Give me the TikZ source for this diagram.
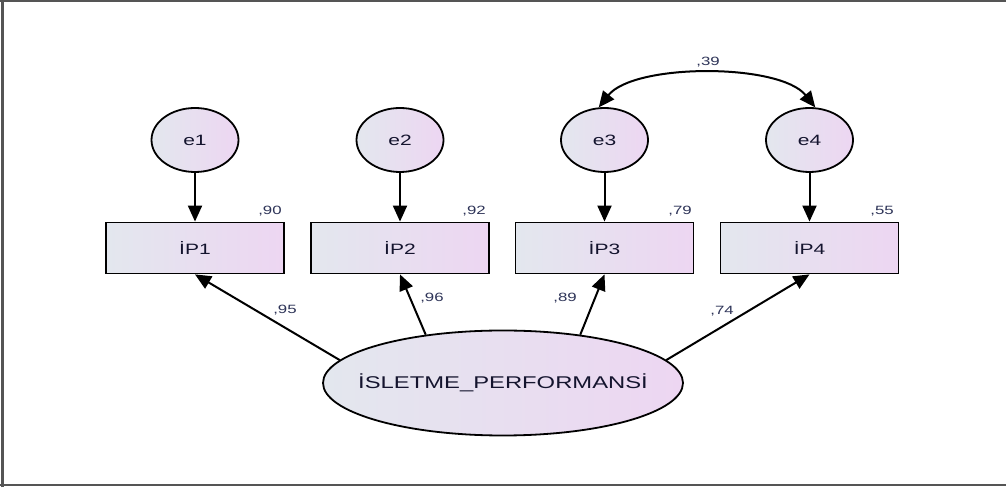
\documentclass[tikz,border=0pt]{standalone}
\usepackage{fontspec}
\usetikzlibrary{arrows.meta,shapes.geometric}
\newfontfamily\nodefont[FakeStretch=1.4]{Liberation Sans}
\definecolor{lbl}{HTML}{E3E7EE}
\definecolor{lpk}{HTML}{EDD6F2}
\definecolor{txt}{HTML}{14142E}
\definecolor{lab}{HTML}{2E3458}
\definecolor{frame}{HTML}{555555}
\begin{document}
\begin{tikzpicture}[x=1pt,y=1pt,
  err/.style={ellipse,draw=black,line width=1.8pt,left color=lbl,right color=lpk,
    minimum width=87pt,minimum height=64pt,inner sep=0pt,font=\nodefont\fontsize{15}{18}\selectfont,text=txt},
  obs/.style={rectangle,draw=black,line width=1.8pt,left color=lbl,right color=lpk,
    minimum width=178pt,minimum height=51pt,inner sep=0pt,font=\nodefont\fontsize{15}{18}\selectfont,text=txt},
  lat/.style={ellipse,draw=black,line width=1.8pt,left color=lbl,right color=lpk,
    minimum width=360pt,minimum height=105pt,inner sep=0pt,font=\nodefont\fontsize{17}{20}\selectfont,text=txt},
  coef/.style={font=\nodefont\fontsize{12}{14}\selectfont,text=lab,inner sep=0pt},
  arr/.style={line width=2pt,-{Triangle[length=16pt,width=14pt]}},
  darr/.style={line width=2pt,{Triangle[length=16pt,width=14pt]}-{Triangle[length=16pt,width=14pt]}}
]
\useasboundingbox (0,0) rectangle (1006,487);
\fill[white] (0,0) rectangle (1006,487);
% frame
\draw[frame,line width=2.5pt] (2.5,0) -- (2.5,487);
\draw[frame,line width=1.5pt] (0,486) -- (1006,486);
\draw[frame,line width=1.5pt] (0,2) -- (1006,2);

% error terms
\node[err] (e1) at (195,347) {e1};
\node[err] (e2) at (400,347) {e2};
\node[err] (e3) at (604.5,347) {e3};
\node[err] (e4) at (809.5,347) {e4};

% observed
\node[obs] (IP1) at (195,239) {İP1};
\node[obs] (IP2) at (400,239) {İP2};
\node[obs] (IP3) at (604.5,239) {İP3};
\node[obs] (IP4) at (809.5,239) {İP4};

% latent
\node[lat] (F) at (503,104) {\makebox[0pt]{İSLETME\_PERFORMANSİ}};

% error arrows
\draw[arr] (e1) -- (IP1);
\draw[arr] (e2) -- (IP2);
\draw[arr] (e3) -- (IP3);
\draw[arr] (e4) -- (IP4);

% loadings
\draw[arr] (F.172) -- (IP1.south);
\draw[arr] (F.148) -- (IP2.south);
\draw[arr] (F.32) -- (IP3.south);
\draw[arr] (F.8.5) -- (IP4.south);

% covariance
\coordinate (c1) at (634,424);
\coordinate (c2) at (780,424);
\draw[darr] (e3.100) .. controls (c1) and (c2) .. (e4.80);

% coefficient labels
\node[coef] (r1) at (270,276) {,90};
\node[coef] (r2) at (474,276) {,92};
\node[coef] (r3) at (680,276) {,79};
\node[coef] (r4) at (882,276) {,55};
\node[coef] (l1) at (285,177) {,95};
\node[coef] (l2) at (432,189) {,96};
\node[coef] (l3) at (565,189) {,89};
\node[coef] (l4) at (722,176) {,74};
\node[coef] (cv) at (708,425) {,39};
\end{tikzpicture}
\end{document}
